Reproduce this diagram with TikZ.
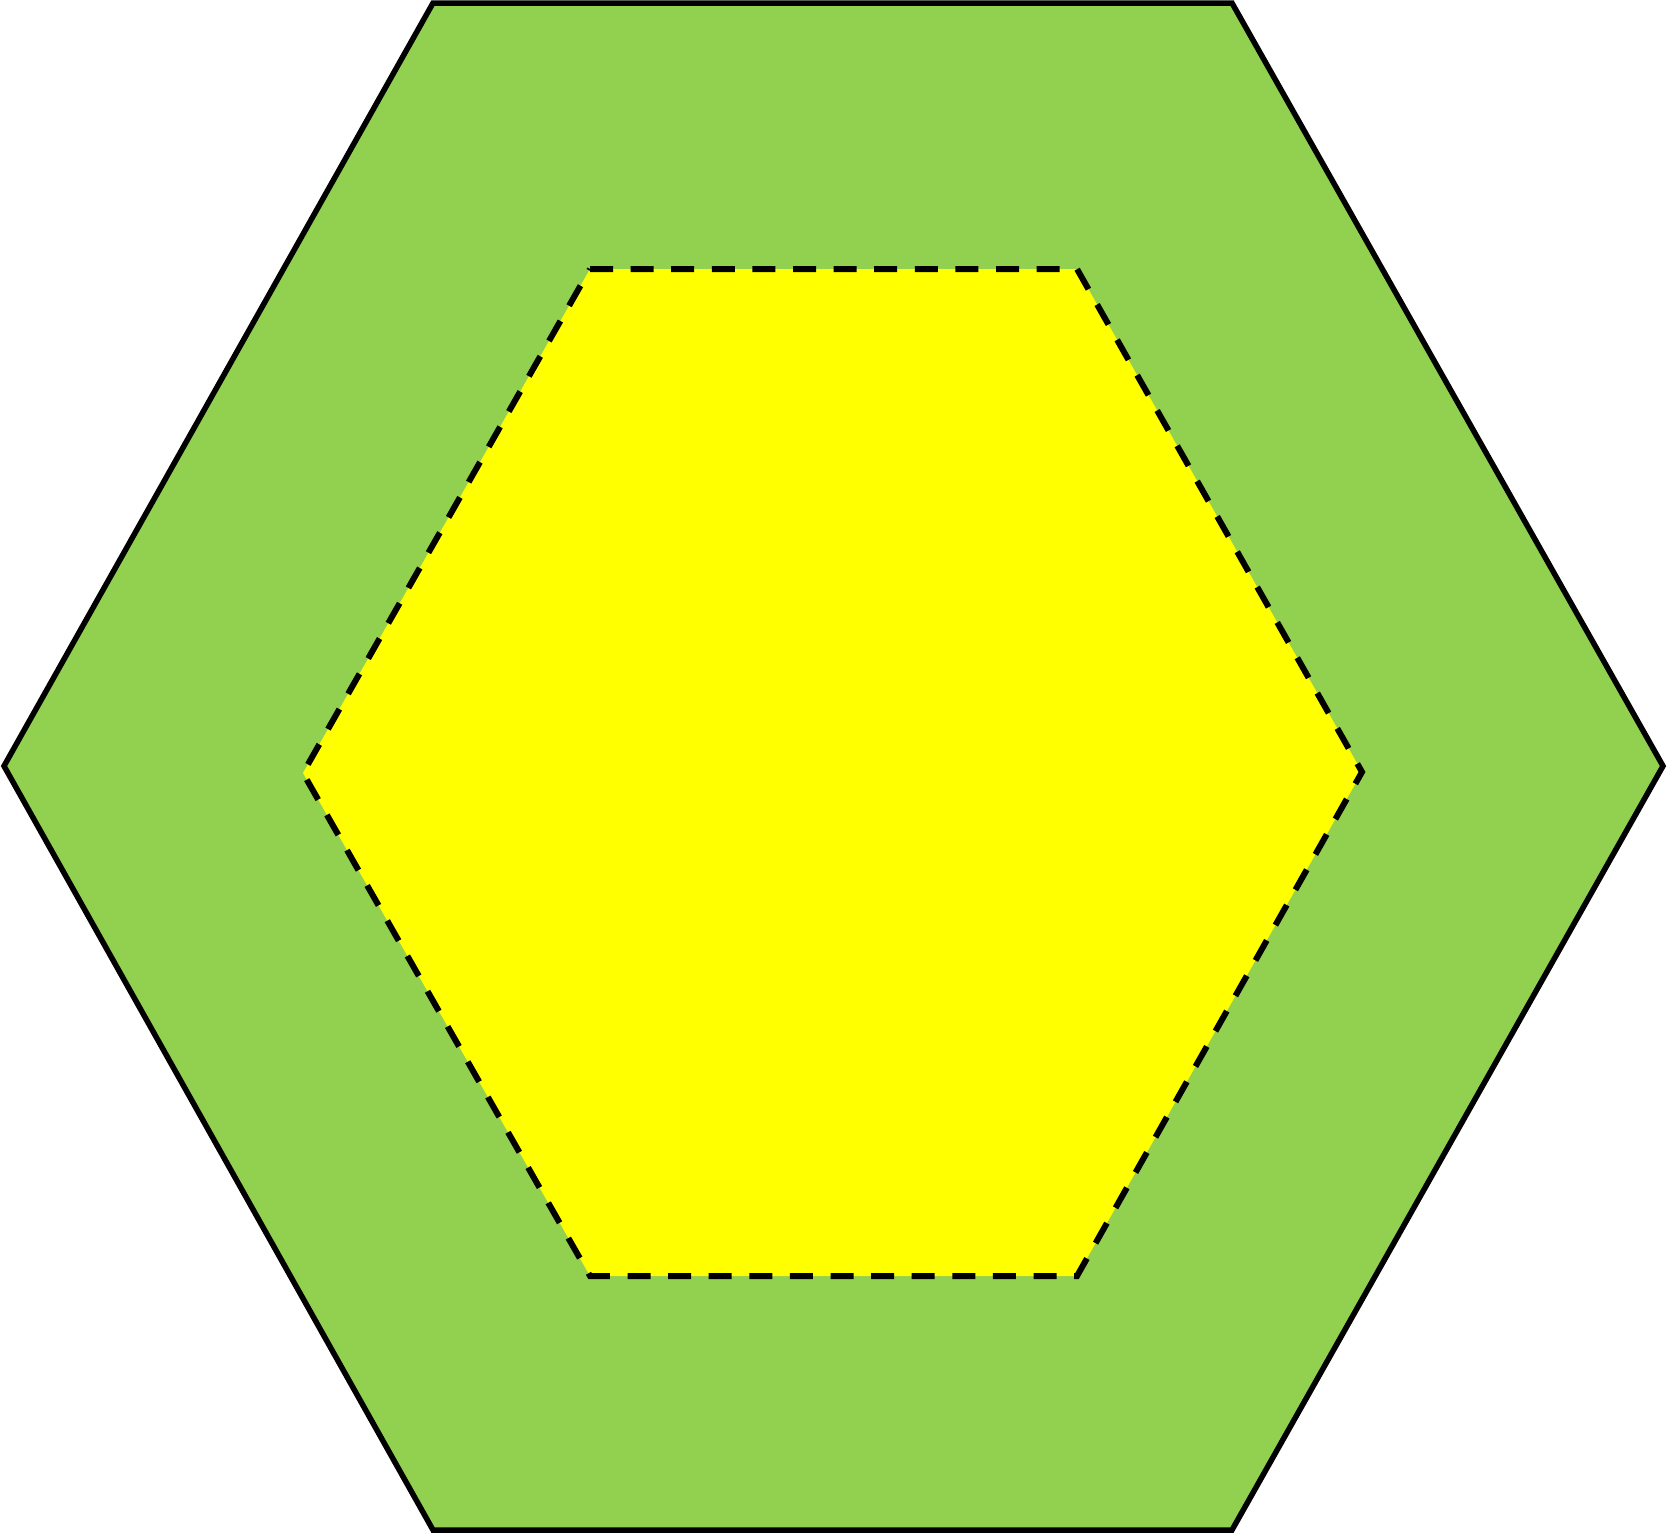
\documentclass[tikz,border=0pt]{standalone}
\definecolor{hexgreen}{HTML}{92D050}
\definecolor{hexyellow}{HTML}{FFFF00}
\begin{document}
\begin{tikzpicture}[x=0.5pt,y=-0.5pt,
  outerhex/.style={fill=hexgreen,draw=black,line width=2.75pt,line join=miter},
  innerhex/.style={fill=hexyellow,draw=black,line width=3pt,dash pattern=on 11.5pt off 8.8pt}]
\useasboundingbox (0,0) rectangle (1667,1533);
\draw[outerhex] (433,3) -- (1232,3) -- (1663,766) -- (1232,1530) -- (433,1530) -- (4,766) -- cycle;
\draw[innerhex] (590,269) -- (1077,269) -- (1362,772) -- (1077,1276) -- (590,1276) -- (303,773) -- cycle;
\end{tikzpicture}
\end{document}
